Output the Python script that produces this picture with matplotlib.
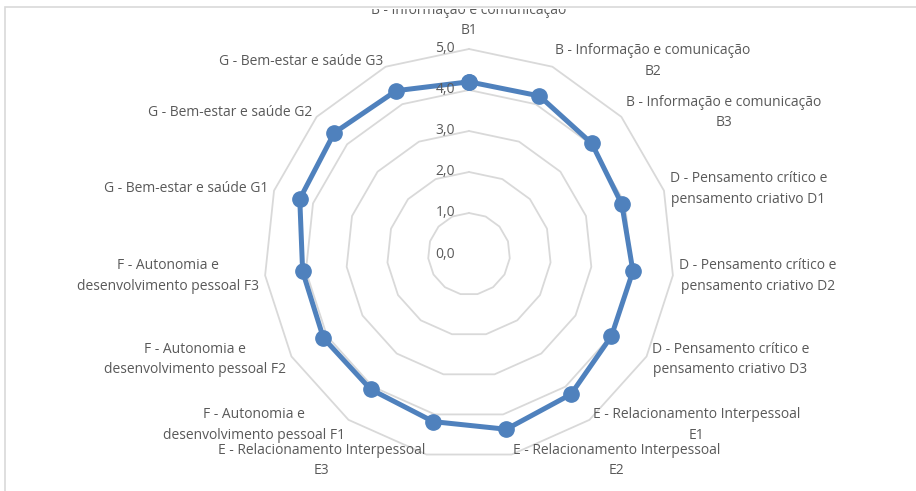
import numpy as np
import matplotlib
matplotlib.use("Agg")
import matplotlib.pyplot as plt
from matplotlib.patches import Rectangle
from matplotlib.transforms import offset_copy

plt.rcParams["font.family"] = ["Open Sans", "DejaVu Sans"]

# categorias (quebras de linha como no gráfico original)
categorias = [
    "B - Informação e comunicação\nB1",
    "B - Informação e comunicação\nB2",
    "B - Informação e comunicação\nB3",
    "D - Pensamento crítico e\npensamento criativo D1",
    "D - Pensamento crítico e\npensamento criativo D2",
    "D - Pensamento crítico e\npensamento criativo D3",
    "E - Relacionamento Interpessoal\nE1",
    "E - Relacionamento Interpessoal\nE2",
    "E - Relacionamento Interpessoal\nE3",
    "F - Autonomia e\ndesenvolvimento pessoal F1",
    "F - Autonomia e\ndesenvolvimento pessoal F2",
    "F - Autonomia e\ndesenvolvimento pessoal F3",
    "G - Bem-estar e saúde G1",
    "G - Bem-estar e saúde G2",
    "G - Bem-estar e saúde G3",
]
valores = [4.20, 4.22, 4.03, 3.92, 4.02, 4.01, 4.23, 4.37, 4.18,
           4.08, 4.10, 4.08, 4.34, 4.42, 4.36]
niveis = [0, 1, 2, 3, 4, 5]
niveis_txt = ["0,0", "1,0", "2,0", "3,0", "4,0", "5,0"]

AZUL = "#4f81bd"
CINZA = "#d9d9d9"
TEXTO = "#595959"
FS = 10

n = len(categorias)
ang = np.linspace(0, 2 * np.pi, n, endpoint=False)
ang_f = np.append(ang, ang[0])

fig = plt.figure(figsize=(9.16, 4.91), dpi=100)
W, H = 916, 491
cx, cy, R = 469, 254, 205
ax = fig.add_axes([(cx - R) / W, (H - cy - R) / H, 2 * R / W, 2 * R / H],
                  projection="polar")
ax.set_theta_offset(np.pi / 2)
ax.set_theta_direction(-1)
ax.set_ylim(0, 5)
ax.grid(False)
ax.spines["polar"].set_visible(False)
ax.set_xticks([])
ax.set_yticks([])
ax.patch.set_visible(False)

# grade poligonal
for nv in niveis[1:]:
    ax.plot(ang_f, [nv] * (n + 1), color=CINZA, lw=1.3, zorder=1, clip_on=False)

# série
v = np.append(valores, valores[0])
ax.plot(ang_f, v, color=AZUL, lw=3.6, marker="o", markersize=11,
        zorder=3, clip_on=False)

# rótulos do eixo radial
tr = offset_copy(ax.transData, fig=fig, x=-14, y=0, units="dots")
for nv, t in zip(niveis, niveis_txt):
    ax.text(0, nv, t, transform=tr, ha="right", va="center",
            fontsize=FS, color=TEXTO)

# moldura da área do gráfico
moldura = Rectangle((5 / W, -0.1), 2, (H - 7) / H + 0.1, transform=fig.transFigure,
                    fill=False, edgecolor=CINZA, lw=1.2)
fig.patches.append(moldura)
clip = Rectangle((5 / W, 0), 1, (H - 9) / H, transform=fig.transFigure,
                 visible=False)
fig.patches.append(clip)

# rótulos das categorias
for a, lab in zip(ang, categorias):
    deg = np.degrees(a)
    if deg < 1:
        t = ax.text(a, 5.26, lab, ha="center", va="bottom", fontsize=FS,
                    color=TEXTO, multialignment="center", linespacing=1.5,
                    clip_on=False)
        t.set_clip_path(clip)
        t.set_clip_on(True)
        continue
    ha = "left" if deg < 180 else "right"
    ax.text(a, 5.15, lab, ha=ha, va="center", fontsize=FS, color=TEXTO,
            multialignment="center", linespacing=1.5, clip_on=False)

fig.savefig("out.png", dpi=100, facecolor="white")
